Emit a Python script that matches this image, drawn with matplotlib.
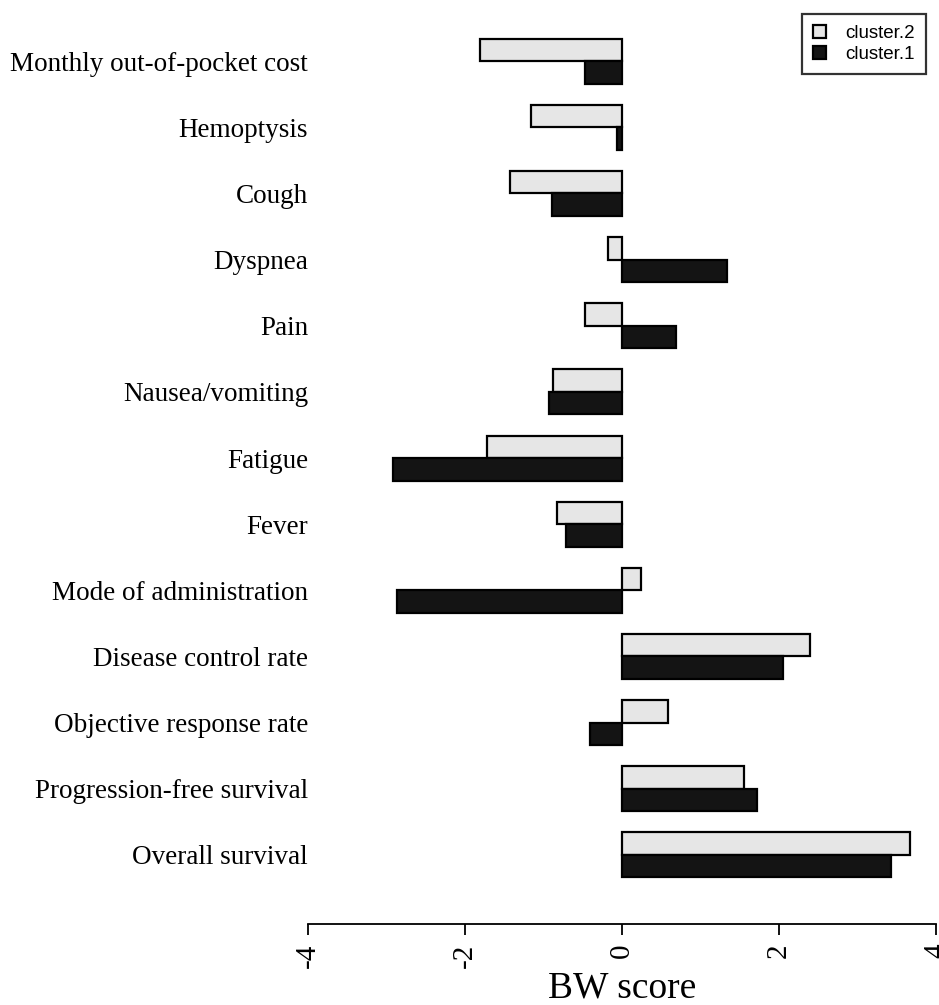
import numpy as np
import matplotlib.pyplot as plt

plt.rcParams['axes.unicode_minus'] = False

attributes = ["Monthly out-of-pocket cost", "Hemoptysis", "Cough", "Dyspnea", "Pain",
              "Nausea/vomiting", "Fatigue", "Fever", "Mode of administration",
              "Disease control rate", "Objective response rate",
              "Progression-free survival", "Overall survival"]
cluster2 = [-1.81, -1.16, -1.43, -0.18, -0.47, -0.88, -1.72, -0.83, 0.24, 2.39, 0.59, 1.55, 3.67]
cluster1 = [-0.47, -0.06, -0.89, 1.34, 0.69, -0.93, -2.92, -0.71, -2.87, 2.05, -0.41, 1.72, 3.43]
xticks = [-4, -2, 0, 2, 4]

W, H = 939, 1005
fig = plt.figure(figsize=(W / 100, H / 100), dpi=100)
ax = fig.add_axes([308 / W, 1 - 924 / H, (936 - 308) / W, (924 - 20) / H])

n = len(attributes)
pos = np.arange(n)[::-1]   # first attribute at the top
h = 0.34

ax.barh(pos + h / 2, cluster2, height=h, color="#e6e6e6", edgecolor="black",
        linewidth=1.6, label="cluster.2")
ax.barh(pos - h / 2, cluster1, height=h, color="#141414", edgecolor="black",
        linewidth=1.6, label="cluster.1")

ax.set_xlim(-4, 4)
ax.set_ylim(-1.043, 12.62)

ax.set_yticks(pos)
ax.set_yticklabels(attributes, family="Liberation Serif", fontsize=19.5)
ax.tick_params(axis="y", length=0, pad=0)

ax.set_xticks(xticks)
ax.set_xticklabels([str(t) for t in xticks], family="Liberation Serif",
                   fontsize=21, rotation=90)
ax.tick_params(axis="x", length=8, width=1.3, pad=6)
ax.set_xlabel("BW score", family="Liberation Serif", fontsize=27, labelpad=2)

for s in ["top", "right", "left"]:
    ax.spines[s].set_visible(False)
ax.spines["bottom"].set_linewidth(1.3)

leg = ax.legend(loc="upper right", bbox_to_anchor=(926 / W, 1 - 14 / H),
                bbox_transform=fig.transFigure, prop={"family": "Liberation Sans", "size": 13.5},
                frameon=True, fancybox=False, edgecolor="black", handlelength=0.7,
                handleheight=0.65, handletextpad=1.0, borderpad=0.6, borderaxespad=0,
                labelspacing=0.2)
leg.get_frame().set_linewidth(1.6)

fig.savefig("out.png", dpi=100)
